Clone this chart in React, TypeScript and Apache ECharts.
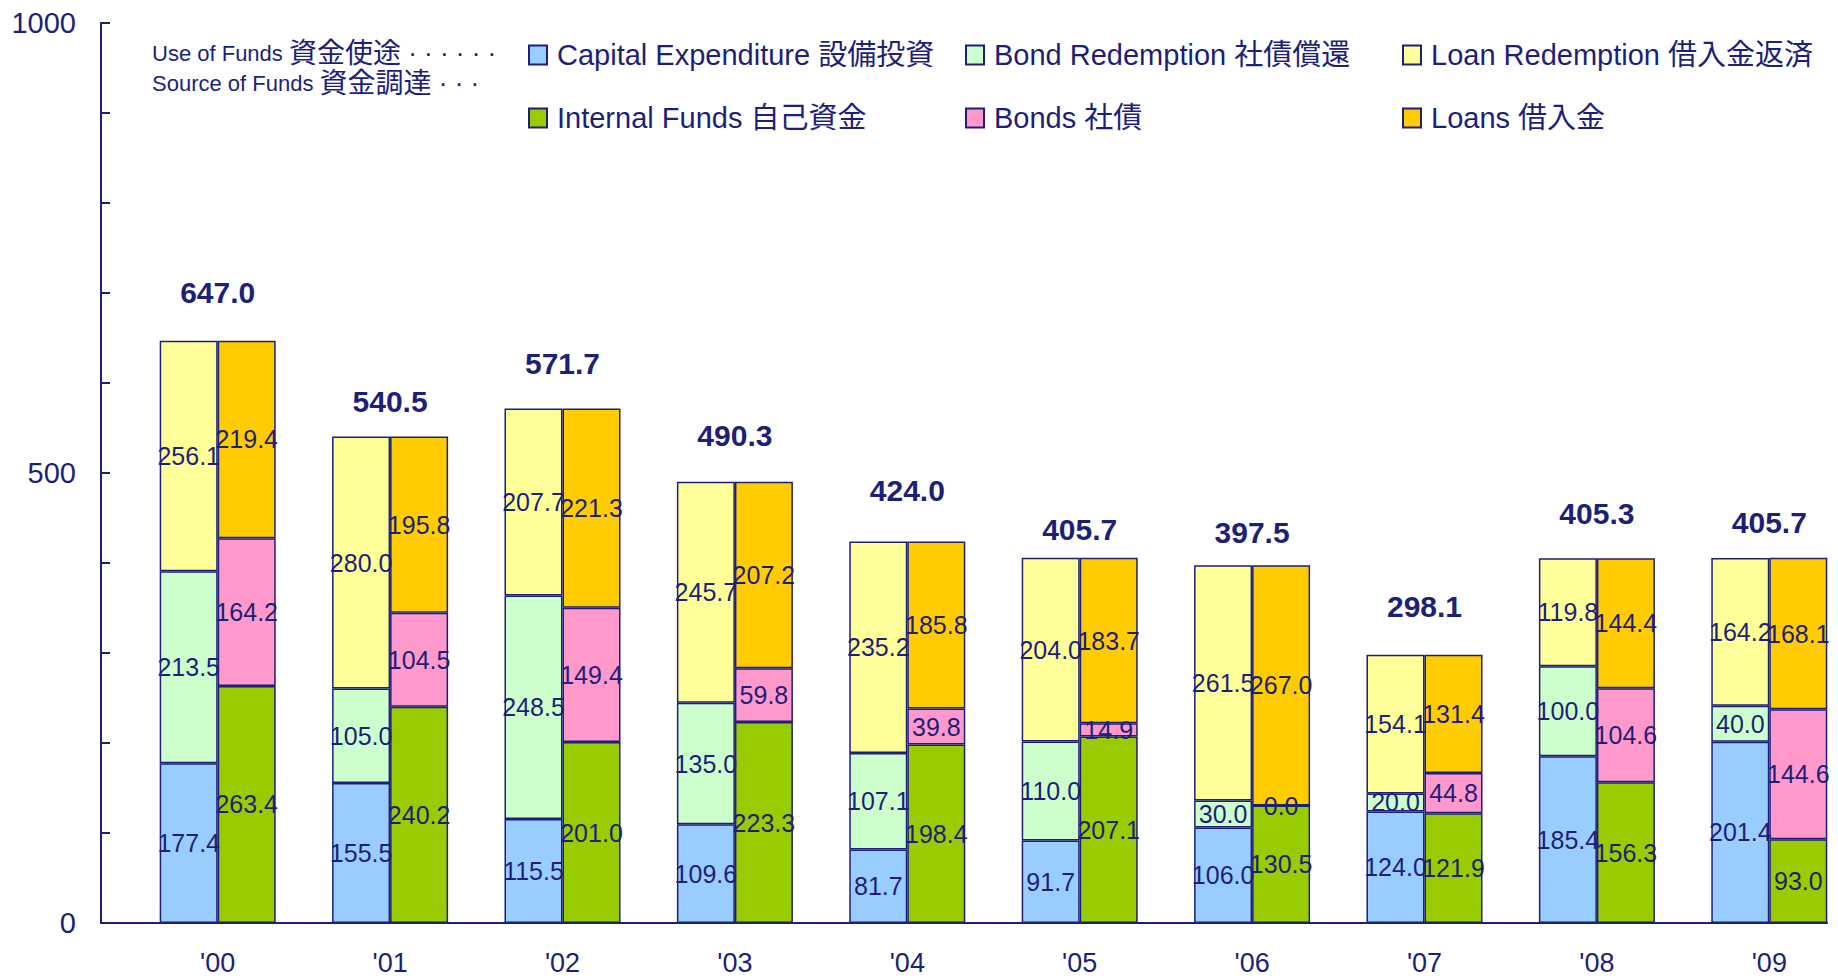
import React, { useEffect, useRef } from 'react';
import * as echarts from 'echarts';

const years = ["'00", "'01", "'02", "'03", "'04", "'05", "'06", "'07", "'08", "'09"];
const capitalExpenditure = [177.4, 155.5, 115.5, 109.6, 81.7, 91.7, 106.0, 124.0, 185.4, 201.4];
const bondRedemption = [213.5, 105.0, 248.5, 135.0, 107.1, 110.0, 30.0, 20.0, 100.0, 40.0];
const loanRedemption = [256.1, 280.0, 207.7, 245.7, 235.2, 204.0, 261.5, 154.1, 119.8, 164.2];
const internalFunds = [263.4, 240.2, 201.0, 223.3, 198.4, 207.1, 130.5, 121.9, 156.3, 93.0];
const bonds = [164.2, 104.5, 149.4, 59.8, 39.8, 14.9, 0.0, 44.8, 104.6, 144.6];
const loans = [219.4, 195.8, 221.3, 207.2, 185.8, 183.7, 267.0, 131.4, 144.4, 168.1];
const totals = [647.0, 540.5, 571.7, 490.3, 424.0, 405.7, 397.5, 298.1, 405.3, 405.7];
const yTickLabels = [0, 500, 1000];

// label styling: gap (px) between bar top and the total label's centre, as placed in the reference
const totalLabelGap = [47, 34, 43.5, 44.5, 49, 27, 31.5, 46.5, 43, 33.5];

const NAVY = '#1d1f78';
const FONT = "'Liberation Sans', Arial, 'Noto Sans CJK JP', sans-serif";

const seriesDefs = [
  { name: 'Capital Expenditure 設備投資', stack: 'use', color: '#99CCFF', data: capitalExpenditure },
  { name: 'Bond Redemption 社債償還', stack: 'use', color: '#CCFFCC', data: bondRedemption },
  { name: 'Loan Redemption 借入金返済', stack: 'use', color: '#FFFF99', data: loanRedemption },
  { name: 'Internal Funds 自己資金', stack: 'source', color: '#99CC00', data: internalFunds },
  { name: 'Bonds 社債', stack: 'source', color: '#FF99CC', data: bonds },
  { name: 'Loans 借入金', stack: 'source', color: '#FFCC00', data: loans },
];

const legendCols = [
  { left: 528, data: ['Capital Expenditure 設備投資', 'Internal Funds 自己資金'] },
  { left: 965, data: ['Bond Redemption 社債償還', 'Bonds 社債'] },
  { left: 1402, data: ['Loan Redemption 借入金返済', 'Loans 借入金'] },
];

export default function App() {
  const ref = useRef<HTMLDivElement>(null);

  useEffect(() => {
    document.body.style.margin = '0';
    if (!ref.current) return;
    const chart = echarts.init(ref.current, null, { renderer: 'svg' });

    const barSeries = seriesDefs.map((s) => ({
      type: 'bar',
      name: s.name,
      stack: s.stack,
      xAxisIndex: 0,
      yAxisIndex: 0,
      barWidth: 58,
      barGap: '0%',
      data: s.data,
      itemStyle: { color: s.color, borderColor: NAVY, borderWidth: 1.5 },
      label: {
        show: true,
        position: 'inside',
        color: NAVY,
        fontSize: 25,
        fontFamily: FONT,
        formatter: (p: any) => Number(p.value).toFixed(1),
      },
    }));

    const totalSeries = {
      type: 'scatter',
      name: 'total',
      silent: true,
      xAxisIndex: 0,
      yAxisIndex: 0,
      symbolSize: 1,
      itemStyle: { color: 'transparent', opacity: 1 },
      data: totals.map((t, i) => ({ value: t, label: { distance: totalLabelGap[i] - 14 } })),
      label: {
        show: true,
        position: 'top',
        distance: 33,
        color: NAVY,
        opacity: 1,
        fontSize: 30,
        fontWeight: 'bold',
        fontFamily: FONT,
        formatter: (p: any) => Number(p.value).toFixed(1),
      },
      z: 10,
    };

    const option: any = {
      animation: false,
      backgroundColor: '#ffffff',
      textStyle: { fontFamily: FONT, color: NAVY },
      grid: [
        { left: 131.5, width: 1724, top: 23, bottom: 57, containLabel: false, outerBoundsMode: 'none' },
        { left: 101, right: 11, top: 23, bottom: 57, containLabel: false, outerBoundsMode: 'none' },
      ],
      xAxis: [
        {
          type: 'category',
          gridIndex: 0,
          data: years,
          axisLine: { show: false },
          axisTick: { show: false },
          splitLine: { show: false },
          axisLabel: {
            color: NAVY,
            fontSize: 27,
            lineHeight: 24,
            fontFamily: FONT,
            margin: 28,
            interval: 0,
          },
        },
        {
          type: 'value',
          gridIndex: 1,
          min: 0,
          max: 1,
          axisLine: { show: true, onZero: false, lineStyle: { color: NAVY, width: 2 } },
          axisTick: { show: false },
          axisLabel: { show: false },
          splitLine: { show: false },
        },
      ],
      yAxis: [
        {
          type: 'value',
          gridIndex: 0,
          min: 0,
          max: 1000,
          interval: 100,
          offset: 30.5,
          axisLine: { show: true, onZero: false, lineStyle: { color: NAVY, width: 2 } },
          axisTick: { show: true, inside: true, length: 9, lineStyle: { color: NAVY, width: 2 } },
          splitLine: { show: false },
          axisLabel: {
            formatter: (v: number) => (yTickLabels.includes(v) ? String(v) : ''),
            color: NAVY,
            fontSize: 29,
            fontFamily: FONT,
            margin: 25,
          },
        },
        {
          type: 'value',
          gridIndex: 1,
          min: 0,
          max: 1000,
          show: false,
        },
      ],
      legend: legendCols.map((c) => ({
        orient: 'vertical',
        left: c.left,
        top: 40,
        padding: 0,
        itemGap: 33,
        itemWidth: 18,
        itemHeight: 19,
        icon: 'rect',
        selectedMode: false,
        data: c.data,
        itemStyle: { borderColor: NAVY, borderWidth: 2 },
        textStyle: { color: NAVY, fontSize: 29, fontFamily: FONT, lineHeight: 30, padding: [0, 0, 0, 5] },
      })),
      graphic: [
        {
          type: 'text',
          left: 152,
          top: 39,
          style: {
            text: '{a|Use of Funds }{b|資金使途}{c| · · · · · ·}',
            rich: {
              a: { fontSize: 22, fontFamily: FONT, fill: NAVY, color: NAVY },
              b: { fontSize: 28, fontFamily: FONT, fill: NAVY, color: NAVY },
              c: { fontSize: 26, fontFamily: FONT, fill: NAVY, color: NAVY },
            },
          },
        },
        {
          type: 'text',
          left: 152,
          top: 69,
          style: {
            text: '{a|Source of Funds }{b|資金調達}{c| · · ·}',
            rich: {
              a: { fontSize: 22, fontFamily: FONT, fill: NAVY, color: NAVY },
              b: { fontSize: 28, fontFamily: FONT, fill: NAVY, color: NAVY },
              c: { fontSize: 26, fontFamily: FONT, fill: NAVY, color: NAVY },
            },
          },
        },
      ],
      series: [...barSeries, totalSeries],
    };

    chart.setOption(option);
    return () => {
      chart.dispose();
    };
  }, []);

  return <div ref={ref} style={{ width: 1838, height: 980, display: 'block' }} />;
}
